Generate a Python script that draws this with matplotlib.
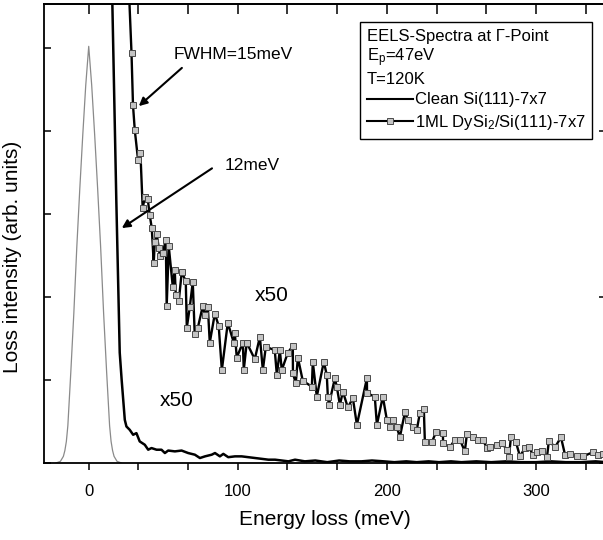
#!/usr/bin/env python3
from __future__ import annotations

import matplotlib

matplotlib.use("Agg")
import matplotlib.pyplot as plt
from matplotlib.lines import Line2D
from matplotlib.ticker import FixedLocator, MultipleLocator

# elastic peak (unscaled), energy loss in meV / intensity in arb. units
elastic_e = [-22, -19, -17, -16, -15, -14, -12, -10, -8, -6, -4, -2, 0,
             2, 4, 6, 8, 10, 12, 14, 15, 16, 17, 19, 22]
elastic_i = [0.0, 0.02, 0.08, 0.15, 0.26, 0.45, 1.1, 1.8, 2.6, 3.3, 3.95, 4.55, 5.02,
             4.55, 3.95, 3.3, 2.6, 1.8, 1.1, 0.45, 0.26, 0.15, 0.08, 0.02, 0.0]

# clean Si(111)-7x7, x50
clean_e = [15.0, 15.8, 18.5, 20.8, 22.1, 24.2, 25.3, 27.5, 29.8, 32.0, 34.2, 37.6,
           39.9, 42.1, 45.5, 48.8, 51.1, 53.3, 57.8, 62.3, 66.7, 71.2, 74.6, 78.0,
           82.5, 84.7, 88.0, 90.3, 93.6, 98.1, 102.6, 107.1, 111.6, 116.1, 120.5,
           125.0, 129.5, 134.0, 138.4, 145, 152, 160, 168, 175, 183, 190, 198, 205,
           213, 220, 228, 235, 243, 250, 260, 270, 280, 290, 300, 310, 320, 330,
           340, 347]
clean_i = [6.3, 5.58, 3.17, 1.33, 1.0, 0.52, 0.44, 0.40, 0.34, 0.36, 0.26, 0.22,
           0.16, 0.18, 0.16, 0.16, 0.12, 0.15, 0.14, 0.15, 0.12, 0.10, 0.06, 0.08,
           0.10, 0.12, 0.08, 0.11, 0.07, 0.08, 0.08, 0.07, 0.06, 0.05, 0.04,
           0.04, 0.03, 0.02, 0.04, 0.02, 0.03, 0.01, 0.03, 0.02, 0.02, 0.03, 0.02, 0.01,
           0.02, 0.01, 0.02, 0.01, 0.02, 0.01, 0.02, 0.01, 0.02, 0.01, 0.01, 0.02, 0.01, 0.01,
           0.02, 0.01]

# 1ML DySi2/Si(111)-7x7, x50
dysi_e = [26.8, 28.7, 29.7, 30.9, 33.1, 34.7, 36.2, 37.6, 39.6, 40.9, 42.3, 43.6,
          44.3, 45.6, 47.0, 47.7, 49.7, 51.7, 52.3, 53.7, 56.4, 57.7, 58.4, 60.4,
          62.4, 65.1, 65.8, 67.8, 69.8, 71.1, 73.2, 76.5, 77.9, 79.9, 81.2, 84.6,
          87.2, 89.3, 93.3, 97.3, 98.0, 99.3, 103.4, 104.0, 106.0, 111.4, 114.8,
          116.8, 118.8, 124.8, 126.2, 128.2, 129.5, 133.6, 136.9, 137.0, 138.9,
          140.3, 143.6, 149.7, 150.3, 153.0, 157.7, 159.7, 160.4, 161.1, 165.1,
          166.4, 168.5, 170.5, 173.8, 177.2, 179.9, 186.6, 186.7, 191.9, 193.3,
          197.3, 200.0, 202.0, 204.0, 206.7, 208.7, 212.1, 214.1, 217.4, 220.1,
          222.1, 224.8, 225.5, 230.2, 232.9, 237.6, 237.7, 242.3, 245.6, 249.0,
          252.3, 253.7, 257.7, 261.1, 264.4, 267.1, 269.1, 273.8, 277.2, 280.5,
          281.9, 283.2, 286.6, 289.3, 292.6, 295.3, 298.0, 300.7, 304.0, 307.4,
          308.7, 312.8, 316.8, 319.5, 322.8, 327.5, 331.5, 338.3, 341.6, 345.0]
dysi_i = [5.77, 4.94, 4.31, 4.01, 3.65, 3.73, 3.07, 3.20, 3.18, 2.99, 2.83, 2.41,
          2.66, 2.76, 2.59, 2.49, 2.53, 2.69, 1.89, 2.61, 2.12, 2.33, 2.02, 1.95,
          2.30, 2.19, 1.63, 1.88, 2.18, 1.55, 1.63, 1.89, 1.78, 1.88, 1.45, 1.80,
          1.65, 1.12, 1.69, 1.45, 1.57, 1.27, 1.45, 1.12, 1.45, 1.25, 1.52,
          1.12, 1.40, 1.36, 1.06, 1.36, 1.12, 1.33, 1.41, 1.08, 0.96,
          1.27, 0.99, 0.92, 1.22, 0.80, 1.22, 1.06, 0.80, 0.70, 1.02,
          0.92, 0.70, 0.86, 0.67, 0.78, 0.46, 1.02, 0.84, 0.80, 0.46,
          0.80, 0.52, 0.43, 0.52, 0.43, 0.31, 0.61, 0.52, 0.43, 0.40,
          0.60, 0.65, 0.25, 0.25, 0.37, 0.36, 0.24, 0.19, 0.28, 0.28,
          0.14, 0.35, 0.31, 0.28, 0.28, 0.18, 0.19, 0.22, 0.24, 0.16,
          0.07, 0.31, 0.25, 0.08, 0.18, 0.19, 0.10, 0.13, 0.14, 0.07,
          0.27, 0.19, 0.31, 0.10, 0.11, 0.08, 0.08, 0.13, 0.10, 0.11]

FONT = "Liberation Sans"


def main() -> int:
    plt.rcParams["font.family"] = [FONT, "DejaVu Sans"]
    plt.rcParams["mathtext.fontset"] = "custom"
    plt.rcParams["mathtext.rm"] = FONT
    plt.rcParams["mathtext.default"] = "regular"

    fig = plt.figure(figsize=(6.03, 5.40), dpi=100)
    ax = fig.add_axes([44 / 603, 77 / 540, 562 / 603, 459 / 540])

    ax.plot(elastic_e, elastic_i, color="#8a8a8a", lw=0.9)
    ax.plot(clean_e, clean_i, color="black", lw=1.8)
    ax.plot(dysi_e, dysi_i, color="black", lw=1.7, marker="s", ms=4.5,
            mfc="#c4c4c4", mec="#4a4a4a", mew=0.7)

    ax.set_xlim(-30, 347)
    ax.set_ylim(0, 5.53)

    for side in ax.spines.values():
        side.set_linewidth(1.3)

    ax.xaxis.set_major_locator(FixedLocator([0, 100, 200, 300]))
    ax.xaxis.set_minor_locator(MultipleLocator(100 / 3))
    ax.tick_params(axis="x", which="both", direction="out", length=5, width=1.1,
                   labelsize=12, pad=10, top=False)
    ax.yaxis.set_major_locator(FixedLocator([0, 2, 4]))
    ax.yaxis.set_minor_locator(FixedLocator([1, 3, 5]))
    ax.tick_params(axis="y", which="both", direction="in", length=5, width=1.1,
                   labelleft=False, right=True)
    ax.tick_params(axis="y", which="minor", right=False)

    top = ax.secondary_xaxis("top")
    top.xaxis.set_major_locator(MultipleLocator(100 / 3))
    top.tick_params(direction="in", length=7, width=1.1, labeltop=False)
    top.spines["top"].set_linewidth(1.3)

    ax.set_xlabel("Energy loss (meV)", fontsize=15, labelpad=8)
    ax.set_ylabel("Loss intensity (arb. units)", fontsize=15, labelpad=8)
    ax.yaxis.set_label_coords(-0.04, 0.45)

    arrow = dict(arrowstyle="-|>", color="black", lw=1.5, mutation_scale=12,
                 shrinkA=0, shrinkB=0)
    ax.annotate("", xy=(33.6, 4.30), xytext=(62.5, 4.76), arrowprops=arrow)
    ax.annotate("", xy=(22.2, 2.83), xytext=(82.7, 3.55), arrowprops=arrow)
    ax.text(96.8, 4.92, "FWHM=15meV", fontsize=12.5, ha="center", va="center")
    ax.text(109.5, 3.58, "12meV", fontsize=12.5, ha="center", va="center")
    ax.text(123.0, 2.02, "x50", fontsize=15, ha="center", va="center")
    ax.text(59.1, 0.75, "x50", fontsize=15, ha="center", va="center")

    handles = [
        Line2D([], [], color="black", lw=1.5),
        Line2D([], [], color="black", lw=1.5, marker="s", ms=4.5,
               mfc="#c4c4c4", mec="#4a4a4a", mew=0.7),
    ]
    labels = ["Clean Si(111)-7x7", "1ML DySi$_2$/Si(111)-7x7"]
    leg = ax.legend(handles, labels,
                    title="EELS-Spectra at \u0393-Point\nE$_p$=47eV\nT=120K",
                    title_fontsize=12, fontsize=12, alignment="left",
                    loc="upper left", bbox_to_anchor=(0.562, 0.961),
                    borderaxespad=0, borderpad=0.4, handlelength=2.8,
                    handletextpad=0.1, labelspacing=0.35, numpoints=1,
                    fancybox=False, framealpha=1, edgecolor="black")
    leg.get_frame().set_linewidth(1.0)

    fig.savefig("out.png", dpi=100)
    plt.close(fig)
    return 0


if __name__ == "__main__":
    raise SystemExit(main())
